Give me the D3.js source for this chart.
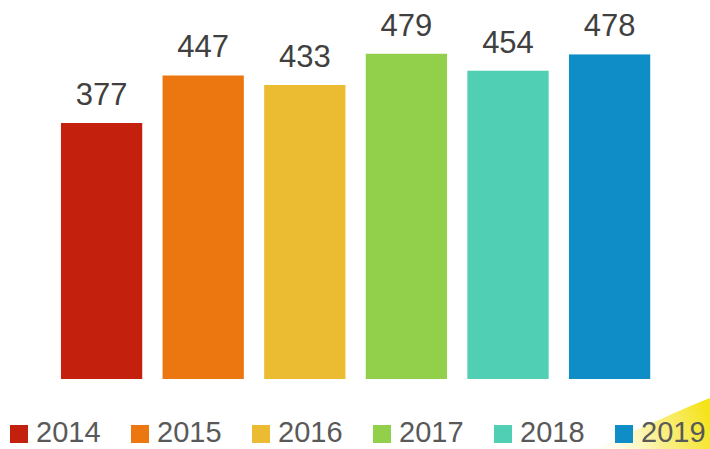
<!DOCTYPE html>
<html>
<head>
<meta charset="utf-8">
<script src="https://cdn.jsdelivr.net/npm/d3@7"></script>
<style>
  body { margin: 0; background: #fff; }
  svg { display: block; }
</style>
</head>
<body>
<div id="chart"></div>
<script>
const width = 710, height = 449;

// data
const years = ["2014", "2015", "2016", "2017", "2018", "2019"];
const values = [377, 447, 433, 479, 454, 478];
const colors = ["#c4200e", "#ec7711", "#ebbb31", "#92cf4a", "#50cfb4", "#0e8dc7"];

let svg = d3.select("#chart")
    .append("svg")
    .attr("width", width)
    .attr("height", height);

// yellow streak in the bottom right corner
let defs = svg.append("defs");
let grad = defs.append("linearGradient")
    .attr("id", "glow")
    .attr("x1", "0%").attr("y1", "60%")
    .attr("x2", "100%").attr("y2", "40%");
grad.append("stop").attr("offset", "0%").attr("stop-color", "#fffbe0").attr("stop-opacity", 0.3);
grad.append("stop").attr("offset", "50%").attr("stop-color", "#f9ee80").attr("stop-opacity", 0.9);
grad.append("stop").attr("offset", "100%").attr("stop-color", "#f5e31a").attr("stop-opacity", 1);
svg.append("path")
    .attr("d", "M596,449 C640,428 680,410 710,398 L710,449 Z")
    .attr("fill", "url(#glow)");

let x = d3.scaleBand()
    .domain(years)
    .range([50.8, 660.4])
    .paddingInner(0.2)
    .paddingOuter(0.1);

let y = d3.scaleLinear()
    .domain([0, 500])
    .range([379, 39.5]);

let data = years.map((d, i) => ({year: d, value: values[i], color: colors[i]}));

svg.append("g").selectAll("rect")
    .data(data)
    .enter()
    .append("rect")
    .attr("x", d => x(d.year))
    .attr("y", d => y(d.value))
    .attr("width", x.bandwidth())
    .attr("height", d => y(0) - y(d.value))
    .attr("fill", d => d.color);

// value labels
svg.append("g").selectAll("text")
    .data(data)
    .enter()
    .append("text")
    .attr("x", d => x(d.year) + x.bandwidth() / 2)
    .attr("y", d => y(d.value) - 18)
    .style("text-anchor", "middle")
    .style("font-family", "'Liberation Sans', Arial, sans-serif")
    .style("font-size", "31px")
    .attr("fill", "#404040")
    .text(d => d.value);

// legend
let legend = svg.append("g").selectAll("g")
    .data(data)
    .enter()
    .append("g")
    .attr("transform", (d, i) => `translate(${10 + i * 121}, 425)`);

legend.append("rect")
    .attr("width", 18)
    .attr("height", 18)
    .attr("fill", d => d.color);

legend.append("text")
    .attr("x", 26)
    .attr("y", 17)
    .style("font-family", "'Liberation Sans', Arial, sans-serif")
    .style("font-size", "29px")
    .attr("fill", "#595959")
    .text(d => d.year);
</script>
</body>
</html>
